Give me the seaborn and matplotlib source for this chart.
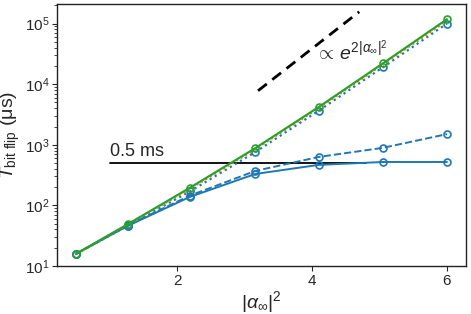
import numpy as np
import pandas as pd
import matplotlib
matplotlib.use("Agg")
import matplotlib.pyplot as plt
import seaborn as sns

sns.set_style("ticks")
plt.rcParams['font.family'] = ['Liberation Sans', 'DejaVu Sans']
plt.rcParams['mathtext.fontset'] = 'custom'
plt.rcParams['mathtext.rm'] = 'Liberation Sans'
plt.rcParams['mathtext.it'] = 'Liberation Sans:italic'
plt.rcParams['mathtext.bf'] = 'Liberation Sans:bold'

alpha2 = [0.5, 1.27, 2.19, 3.16, 4.10, 5.05, 6.0]
green_solid = [15.8, 49, 195, 880, 4200, 22000, 118000]
orange_dotted = [15.8, 48, 185, 840, 4000, 21000, 110000]
blue_dotted = [15.8, 46, 170, 760, 3660, 19000, 100000]
blue_solid = [15.8, 46, 138, 330, 466, 520, 520]
blue_dashed = [15.8, 47, 145, 370, 630, 890, 1500]

ref_x = [1.0, 4.8]
ref_y = [500, 500]
scal_x = [3.2, 4.7]
scal_c = 7.8e3 / np.exp(2 * 3.2)

fig, ax = plt.subplots(figsize=(4.71, 3.14), dpi=100)
fig.subplots_adjust(left=0.121, right=0.989, top=0.987, bottom=0.153)

blue = '#1f77b4'
mk = dict(marker='o', markersize=5, markerfacecolor='none', markeredgewidth=1.2)

sns.lineplot(x=ref_x, y=ref_y, ax=ax, color='black', lw=1.3)
sns.lineplot(x=alpha2, y=blue_solid, ax=ax, color=blue, lw=1.4, **mk, markeredgecolor=blue)
sns.lineplot(x=alpha2, y=blue_dashed, ax=ax, color=blue, lw=1.4, linestyle='--', **mk, markeredgecolor=blue)
sns.lineplot(x=alpha2, y=blue_dotted, ax=ax, color=blue, lw=1.6, linestyle=':', **mk, markeredgecolor=blue)
sns.lineplot(x=alpha2, y=orange_dotted, ax=ax, color='#ff7f0e', lw=1.4, linestyle=':')
sns.lineplot(x=alpha2, y=green_solid, ax=ax, color='#2ca02c', lw=1.6, **mk, markeredgecolor='#2ca02c')

xs = np.array(scal_x)
sns.lineplot(x=xs, y=scal_c * np.exp(2 * xs), ax=ax, color='black', lw=2, linestyle=(0, (4, 2.5)))

ax.set_yscale('log')
ax.set_xlim(0.22, 6.28)
ax.set_ylim(10, 2.1e5)
ax.set_xticks([2, 4, 6])
ax.set_yticks([1e1, 1e2, 1e3, 1e4, 1e5])
ax.tick_params(axis='both', labelsize=11, direction='out', length=3.5, pad=2)
ax.tick_params(axis='y', which='minor', length=2)

ax.text(1.0, 560, '0.5 ms', fontsize=13, ha='left', va='bottom')
ax.text(4.04, 2.5e4, r'$\propto\, e^{2|\alpha_\infty|^2}$', fontsize=14, ha='left', va='baseline')

ax.set_xlabel(r'$|\alpha_\infty|^2$', fontsize=14, labelpad=1)
ax.set_ylabel(r'$T_{\rm bit\ flip}$ (μs)', fontsize=14, labelpad=2)

for s in ax.spines.values():
    s.set_visible(True)
    s.set_color('#222222')
    s.set_linewidth(1.0)

fig.savefig('out.png', dpi=100)
